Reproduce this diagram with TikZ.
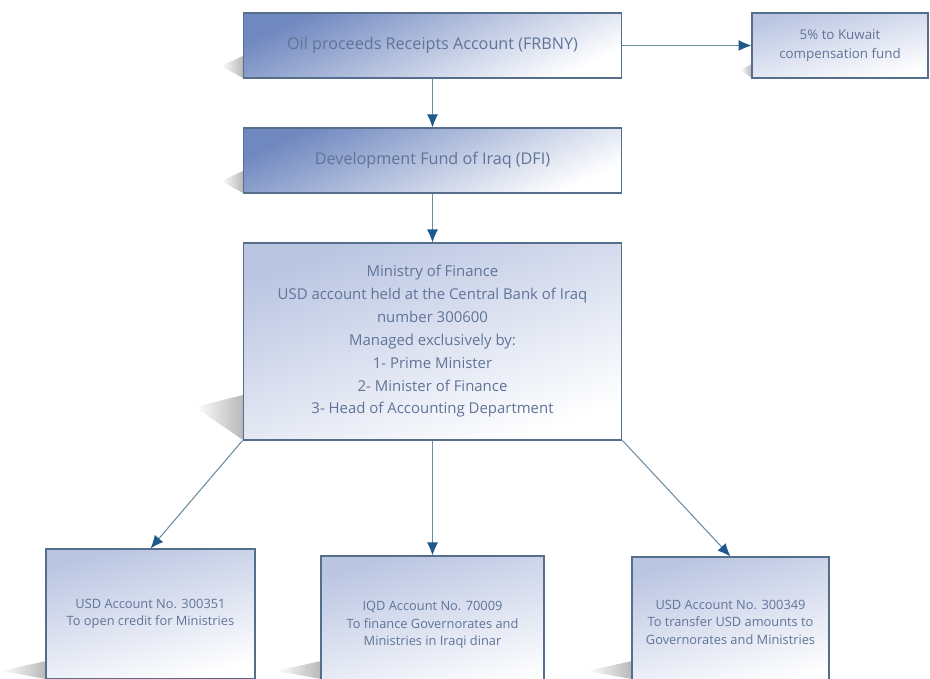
\documentclass[tikz,border=0pt]{standalone}
\usepackage{fontspec}
\setmainfont{Open Sans}
\usetikzlibrary{arrows.meta,calc}
\definecolor{boxline}{RGB}{84,110,140}
\definecolor{boxtext}{RGB}{96,116,152}
\definecolor{darkfill}{RGB}{112,136,192}
\definecolor{lightfill}{RGB}{186,197,226}
\definecolor{arrowline}{RGB}{110,140,160}
\definecolor{headblue}{RGB}{30,88,140}
\tikzset{
    x=0.02cm,
    y=-0.02cm,
    >={Latex[length=2.6mm,width=2.2mm,color=headblue]},
    mainblock/.style = {
        draw=boxline,
        shape=rectangle,
        line width=0.6pt,
        left color=darkfill,
        right color=white,
        shading angle=25,
        text=boxtext,
        align=center,
        font=\fontsize{9.2}{13}\selectfont
    },
    lightblock/.style = {
        draw=boxline,
        shape=rectangle,
        line width=0.6pt,
        left color=lightfill,
        right color=white,
        shading angle=20,
        text=boxtext,
        align=center,
        font=\fontsize{8.5}{13}\selectfont
    },
    smallblock/.style = {
        lightblock,
        shading angle=15,
        font=\fontsize{7.3}{10}\selectfont
    },
    boxshadow/.style = {
        left color=white,
        right color=black!28,
        draw=none
    },
    link/.style = {
        draw=arrowline,
        line width=0.6pt,
        ->
    }
}

\begin{document}
\begin{tikzpicture}
    \clip (0,0) rectangle (930,679);
    \fill[white] (0,0) rectangle (930,679);

    % shadows first, boxes on top
    \coordinate (s1) at (243,78);
    \coordinate (s2) at (243,193);
    \coordinate (s3) at (752,78);
    \coordinate (s4) at (243,440);
    \coordinate (s5) at (46,679);
    \coordinate (s6) at (321,679);
    \coordinate (s7) at (632,679);
    \path[boxshadow] ($(s1)+(-22,-12)$) -- ($(s1)+(0,-22)$) -- (s1) -- cycle;
    \path[boxshadow] ($(s2)+(-22,-12)$) -- ($(s2)+(0,-22)$) -- (s2) -- cycle;
    \path[boxshadow] ($(s3)+(-12,-8)$) -- ($(s3)+(0,-14)$) -- (s3) -- cycle;
    \path[boxshadow] ($(s4)+(-48,-33)$) -- ($(s4)+(0,-45)$) -- (s4) -- cycle;
    \path[boxshadow] ($(s5)+(-45,-8)$) -- ($(s5)+(0,-18)$) -- (s5) -- cycle;
    \path[boxshadow] ($(s6)+(-45,-8)$) -- ($(s6)+(0,-18)$) -- (s6) -- cycle;
    \path[boxshadow] ($(s7)+(-45,-8)$) -- ($(s7)+(0,-18)$) -- (s7) -- cycle;

    \node[mainblock, minimum width=7.58cm, minimum height=1.3cm] (orc) at (432.5,45.5)
        {Oil proceeds Receipts Account (FRBNY)};
    \node[mainblock, minimum width=7.58cm, minimum height=1.3cm] (dfi) at (432.5,160.5)
        {Development Fund of Iraq (DFI)};
    \node[smallblock, minimum width=3.52cm, minimum height=1.3cm,
        font=\fontsize{7.6}{11}\selectfont] (kuwait) at (840,45.5)
        {5\% to Kuwait\\compensation fund};
    \node[lightblock, minimum width=7.58cm, minimum height=3.94cm] (mof) at (432.5,341.5)
        {Ministry of Finance\\USD account held at the Central Bank of Iraq\\number 300600\\
         Managed exclusively by:\\1- Prime Minister\\2- Minister of Finance\\
         3- Head of Accounting Department};
    \node[smallblock, minimum width=4.18cm, minimum height=2.6cm] (usdmin) at (150.5,614)
        {USD Account No. 300351\\To open credit for Ministries};
    \node[smallblock, minimum width=4.46cm, minimum height=2.76cm] (iqd) at (432.5,625)
        {IQD Account No. 70009\\To finance Governorates and\\Ministries in Iraqi dinar};
    \node[smallblock, minimum width=3.94cm, minimum height=2.6cm] (usdgov) at (730.5,622)
        {USD Account No. 300349\\To transfer USD amounts to\\Governorates and Ministries};

    \path[link] (orc) -- (kuwait);
    \path[link] (orc) -- (dfi);
    \path[link] (dfi) -- (mof);
    \path[link] (mof.south west) -- (usdmin.north);
    \path[link] (mof) -- (iqd);
    \path[link] (mof.south east) -- (usdgov.north);
\end{tikzpicture}
\end{document}
